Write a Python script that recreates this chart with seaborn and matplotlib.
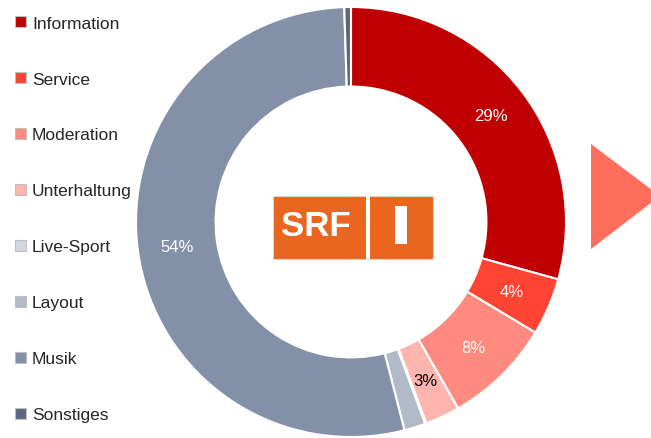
import numpy as np
import matplotlib.pyplot as plt
import seaborn as sns
from matplotlib.patches import Patch, Rectangle, Polygon

# Programmanteile (Anteil in %), im Uhrzeigersinn ab 12 Uhr
categories = ['Information', 'Service', 'Moderation', 'Unterhaltung',
              'Live-Sport', 'Layout', 'Musik', 'Sonstiges']
shares = [29.3, 4.3, 8.1, 2.6, 0.1, 1.6, 53.5, 0.5]
pct_labels = ['29%', '4%', '8%', '3%', '', '', '54%', '']
colors = ['#C00000', '#FF4433', '#FF8B80', '#FFB4AE',
          '#D3D7DF', '#B3BAC7', '#8490A8', '#5B6782']
label_colors = ['white', 'white', 'white', 'black', 'black', 'black', 'white', 'white']

sns.set_theme(style="white")
plt.rcParams['font.family'] = ['Liberation Sans', 'DejaVu Sans']

fig = plt.figure(figsize=(6.51, 4.39), dpi=100)

# donut
W, H = 651, 439
cx, cy, r = 351, 223, 215
ax = fig.add_axes([(cx - r) / W, (H - cy - r) / H, 2 * r / W, 2 * r / H])
wedges, _ = ax.pie(shares, colors=colors, startangle=90, counterclock=False,
                   radius=1.0,
                   wedgeprops=dict(width=0.37, edgecolor='white', linewidth=1.5))
for w, lab, col in zip(wedges, pct_labels, label_colors):
    if not lab:
        continue
    ang = np.deg2rad((w.theta1 + w.theta2) / 2)
    rr = 0.815
    ax.text(rr * np.cos(ang), rr * np.sin(ang), lab, ha='center', va='center',
            color=col, fontsize=12)
ax.set_xlim(-1, 1)
ax.set_ylim(-1, 1)
ax.axis('off')

# SRF 1 logo
orange = '#E8661F'
fig.patches.append(Rectangle((273 / W, 1 - 260 / H), 160 / W, 63 / H,
                             transform=fig.transFigure, facecolor=orange,
                             edgecolor='#D9D9D9', linewidth=0.8))
fig.patches.append(Rectangle((366 / W, 1 - 260 / H), 4 / W, 63 / H,
                             transform=fig.transFigure, facecolor='white', edgecolor='none'))
fig.patches.append(Rectangle((395 / W, 1 - 245 / H), 12 / W, 38 / H,
                             transform=fig.transFigure, facecolor='white', edgecolor='none'))
fig.text(316 / W, 1 - 226 / H, 'SRF', ha='center', va='center', color='white',
         fontsize=25, fontweight='bold')

# pfeil rechts
fig.patches.append(Polygon([(591 / W, 1 - 145 / H), (591 / W, 1 - 250 / H), (660 / W, 1 - 197 / H)],
                           closed=True, transform=fig.transFigure,
                           facecolor='#FF6E5C', edgecolor='none'))

# legend
handles = [Patch(facecolor=c, edgecolor='#BFBFBF', linewidth=0.8) for c in colors]
fig.legend(handles, categories, loc='upper left', bbox_to_anchor=(0.005, 0.99),
           frameon=False, fontsize=12.5, handlelength=0.6, handleheight=0.6,
           handletextpad=0.35, labelspacing=2.36, borderaxespad=0.3)

plt.savefig('out.png', dpi=100)
